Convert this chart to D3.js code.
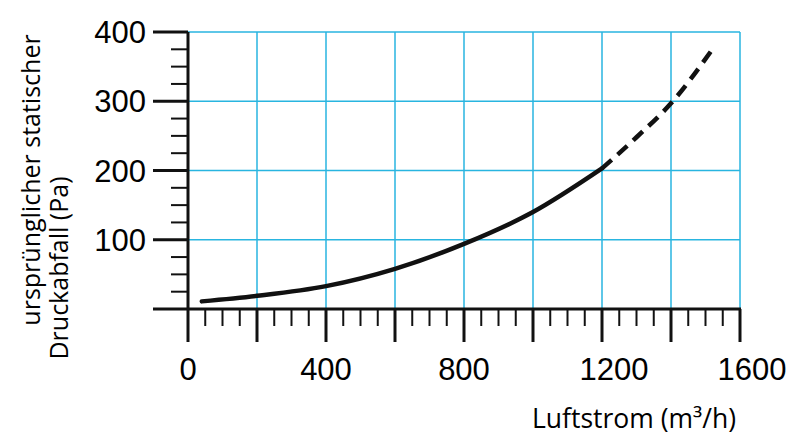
<!DOCTYPE html>
<html><head><meta charset="utf-8">
<script src="https://cdn.jsdelivr.net/npm/d3@7"></script>
<style>body{margin:0;background:#fff}</style></head>
<body><svg id="c" width="800" height="442"></svg>
<script>
const flowValues = [40, 200, 400, 600, 800, 1000, 1200, 1300, 1400, 1520];
const pressureValues = [11, 19, 33, 58, 94, 140, 203, 248, 297, 375];
const xTicks = [0, 400, 800, 1200, 1600];
const yTicks = [100, 200, 300, 400];
const solidLimit = 1200;

const F = "'Liberation Sans', Arial, sans-serif";
const F2 = "'Open Sans', sans-serif";
const svg = d3.select("#c");
const x = d3.scaleLinear().domain([0, 1600]).range([188, 740]);
const y = d3.scaleLinear().domain([0, 400]).range([309, 32]);
const blue = "#29b5e0";

svg.append("g").selectAll("line").data(d3.range(200, 1601, 200)).join("line")
  .attr("x1", d => x(d)).attr("x2", d => x(d)).attr("y1", y(0)).attr("y2", y(400))
  .attr("stroke", blue).attr("stroke-width", 1.5);
svg.append("g").selectAll("line").data(d3.range(100, 401, 100)).join("line")
  .attr("x1", x(0)).attr("x2", x(1600)).attr("y1", d => y(d)).attr("y2", d => y(d))
  .attr("stroke", blue).attr("stroke-width", 1.5);

const yAxis = svg.append("g");
yAxis.append("line").attr("x1", x(0)).attr("x2", x(0)).attr("y1", y(0)).attr("y2", y(400)).attr("stroke", "#111").attr("stroke-width", 3);
yAxis.selectAll(".mt").data(d3.range(25, 400, 25).filter(v => v % 100)).join("line")
  .attr("x1", x(0) - 17).attr("x2", x(0)).attr("y1", d => y(d)).attr("y2", d => y(d)).attr("stroke", "#111").attr("stroke-width", 2);
yAxis.selectAll(".Mt").data(yTicks).join("line")
  .attr("x1", x(0) - 35).attr("x2", x(0)).attr("y1", d => y(d)).attr("y2", d => y(d)).attr("stroke", "#111").attr("stroke-width", 3);
yAxis.selectAll("text").data(yTicks).join("text")
  .attr("x", 146).attr("y", d => y(d) + 11).attr("text-anchor", "end")
  .attr("font-family", F).attr("font-size", 31).text(d => d);

const xAxis = svg.append("g");
xAxis.append("line").attr("x1", 153).attr("x2", x(1600) + 1).attr("y1", y(0)).attr("y2", y(0)).attr("stroke", "#111").attr("stroke-width", 3);
xAxis.selectAll(".mt").data(d3.range(50, 1600, 50).filter(v => v % 200)).join("line")
  .attr("x1", d => x(d)).attr("x2", d => x(d)).attr("y1", y(0)).attr("y2", y(0) + 17).attr("stroke", "#111").attr("stroke-width", 2);
xAxis.selectAll(".Mt").data(d3.range(0, 1601, 200)).join("line")
  .attr("x1", d => x(d)).attr("x2", d => x(d)).attr("y1", y(0)).attr("y2", y(0) + 33).attr("stroke", "#111").attr("stroke-width", 3);
xAxis.selectAll("text").data(xTicks).join("text")
  .attr("x", d => x(d) + (d >= 1000 ? 12 : 0)).attr("y", 380).attr("text-anchor", "middle")
  .attr("font-family", F).attr("font-size", 31).text(d => d);

svg.append("text").attr("x", 532).attr("y", 428).attr("font-family", F2).attr("font-size", 26.5).text("Luftstrom (m³/h)");
svg.append("text").attr("transform", "translate(40,180) rotate(-90)").attr("text-anchor", "middle")
  .attr("font-family", F2).attr("font-size", 25).text("ursprünglicher statischer");
svg.append("text").attr("transform", "translate(68,268) rotate(-90)").attr("text-anchor", "middle")
  .attr("font-family", F2).attr("font-size", 25).text("Druckabfall (Pa)");

const pts = flowValues.map((f, i) => [f, pressureValues[i]]);
const line = d3.line().x(d => x(d[0])).y(d => y(d[1])).curve(d3.curveMonotoneX);
svg.append("path").datum(pts.filter(d => d[0] <= solidLimit)).attr("d", line)
  .attr("fill", "none").attr("stroke", "#111").attr("stroke-width", 4.5).attr("stroke-linecap", "round");
svg.append("path").datum(pts.filter(d => d[0] >= solidLimit)).attr("d", line)
  .attr("fill", "none").attr("stroke", "#111").attr("stroke-width", 4.5).attr("stroke-dasharray", "13 8").attr("stroke-linecap", "butt");
</script></body></html>
